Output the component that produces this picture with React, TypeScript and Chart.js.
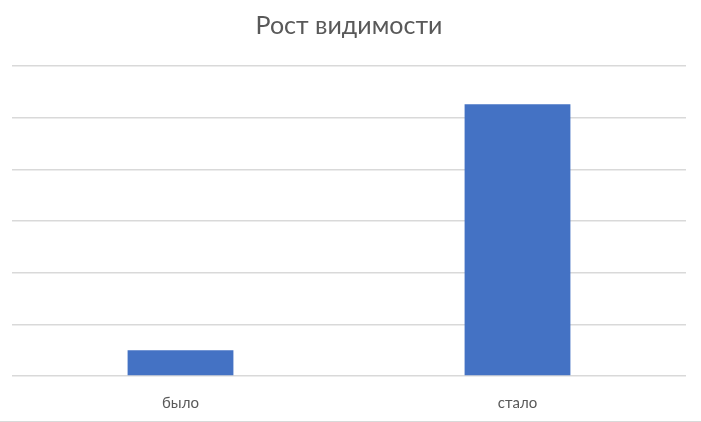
import { useEffect, useRef } from 'react';
import { Chart, registerables } from 'chart.js';

Chart.register(...registerables);

const categories = ['было', 'стало'];
const visibility = [0.5, 5.26];
const yMax = 6;
const yStep = 1;

export default function App() {
  const chartRef = useRef<HTMLCanvasElement>(null);
  const chartInstance = useRef<Chart | null>(null);

  useEffect(() => {
    document.body.style.margin = '0';
    if (!chartRef.current) return;

    if (chartInstance.current) {
      chartInstance.current.destroy();
    }

    const ctx = chartRef.current.getContext('2d');
    if (!ctx) return;

    chartInstance.current = new Chart(ctx, {
      type: 'bar',
      data: {
        labels: categories,
        datasets: [{
          data: visibility,
          backgroundColor: '#4472C4',
          borderWidth: 0,
          categoryPercentage: 1,
          barPercentage: 0.314,
        }]
      },
      options: {
        responsive: false,
        animation: false,
        layout: {
          padding: { left: 12, right: 15, top: 1, bottom: -9 }
        },
        plugins: {
          legend: { display: false },
          tooltip: { enabled: false },
          title: {
            display: true,
            text: 'Рост видимости',
            color: '#595959',
            font: { family: 'Lato', size: 25, weight: 'normal' },
            padding: { top: 10, bottom: 25 },
          }
        },
        scales: {
          x: {
            grid: { display: false, drawTicks: false },
            border: { display: false },
            ticks: {
              color: '#595959',
              font: { family: 'Lato', size: 15 },
              padding: 18,
            }
          },
          y: {
            min: 0,
            max: yMax,
            grid: { color: '#d9d9d9', lineWidth: 1.5, drawTicks: false },
            border: { display: false },
            ticks: { display: false, stepSize: yStep },
          }
        }
      }
    });

    return () => {
      if (chartInstance.current) {
        chartInstance.current.destroy();
      }
    };
  }, []);

  return (
    <div style={{ width: 701, height: 422, position: 'relative', background: '#fff' }}>
      <canvas ref={chartRef} width={701} height={421} />
      <div style={{ position: 'absolute', left: 0, right: 0, bottom: 0, height: 1, background: '#d9d9d9' }} />
    </div>
  );
}
